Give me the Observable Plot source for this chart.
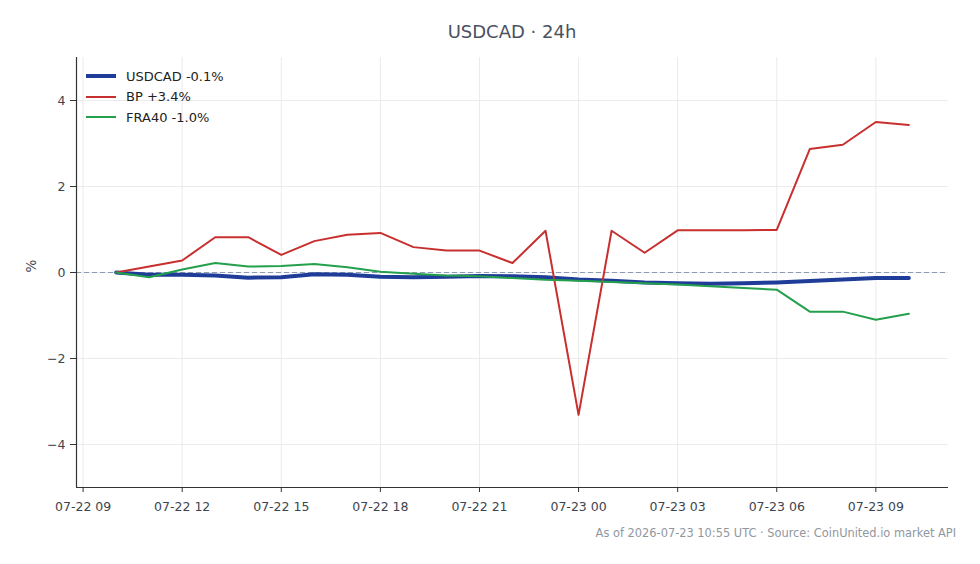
<!DOCTYPE html>
<html><head><meta charset="utf-8">
<script src="https://cdn.jsdelivr.net/npm/d3@7"></script>
<script src="https://cdn.jsdelivr.net/npm/@observablehq/plot@0.6"></script>
<style>
body{margin:0;background:#fff;font-family:"DejaVu Sans",sans-serif;}
#wrap{position:relative;width:980px;height:564px;overflow:hidden;}
#title{position:absolute;top:21px;left:76px;width:872px;text-align:center;font-size:18px;color:#4a5160;}
#caption{position:absolute;top:526px;right:24px;font-size:11.4px;color:#9097a0;white-space:nowrap;}
#legend{position:absolute;left:86px;top:66px;font-size:13px;color:#222;}
#legend .row{display:flex;align-items:center;height:20.5px;}
#legend .sw{width:30px;margin-right:10px;}
#chart{position:absolute;left:0;top:0;}
</style>
</head><body>
<div id="wrap">
<div id="chart"></div>
<div id="title">USDCAD · 24h</div>
<div id="legend"></div>
<div id="caption">As of 2026-07-23 10:55 UTC · Source: CoinUnited.io market API</div>
</div>
<script>
const startTime = "2026-07-22T10:00:00Z";
const seriesNames = ["USDCAD", "BP", "FRA40"];
const legendLabels = ["USDCAD -0.1%", "BP +3.4%", "FRA40 -1.0%"];
const usdcad = [0, -0.05, -0.05, -0.07, -0.12, -0.11, -0.04, -0.05, -0.10, -0.11, -0.10, -0.08, -0.09, -0.11, -0.16, -0.19, -0.23, -0.25, -0.26, -0.25, -0.23, -0.20, -0.16, -0.13, -0.13];
const bp = [0, 0.14, 0.28, 0.82, 0.82, 0.41, 0.73, 0.88, 0.92, 0.59, 0.51, 0.51, 0.22, 0.97, -3.31, 0.97, 0.46, 0.98, 0.98, 0.98, 0.99, 2.87, 2.97, 3.50, 3.43];
const fra40 = [0, -0.11, 0.07, 0.22, 0.14, 0.15, 0.20, 0.12, 0.02, -0.03, -0.07, -0.09, -0.13, -0.17, -0.19, -0.22, -0.25, -0.28, -0.32, -0.36, -0.40, -0.91, -0.91, -1.10, -0.96];
const yTicks = [-4, -2, 0, 2, 4];
const xTickTimes = ["2026-07-22T09:00:00Z","2026-07-22T12:00:00Z","2026-07-22T15:00:00Z","2026-07-22T18:00:00Z","2026-07-22T21:00:00Z","2026-07-23T00:00:00Z","2026-07-23T03:00:00Z","2026-07-23T06:00:00Z","2026-07-23T09:00:00Z"];

const colors = {USDCAD: "#1f3c99", BP: "#c8302f", FRA40: "#24a04d"};
const widths = {USDCAD: 4, BP: 2, FRA40: 2};

const t0 = new Date(startTime).getTime();
const H = 3600e3;
const allSeries = {USDCAD: usdcad, BP: bp, FRA40: fra40};
const rows = [];
for (const name of seriesNames) {
  allSeries[name].forEach((v, i) => rows.push({series: name, t: new Date(t0 + i * H), v}));
}
const xTicks = xTickTimes.map(s => new Date(s));
const fmt = d3.utcFormat("%m-%d %H");

const plot = Plot.plot({
  width: 980,
  height: 564,
  marginLeft: 76,
  marginRight: 32,
  marginTop: 57,
  marginBottom: 77,
  style: {fontFamily: "DejaVu Sans, sans-serif", fontSize: "12.5px", color: "#444", background: "#fff"},
  x: {type: "utc", domain: [new Date(t0 - 1.2 * H), new Date(t0 + 25.2 * H)]},
  y: {domain: [-5, 5]},
  marks: [
    Plot.gridX(xTicks, {stroke: "#e6e6e6", strokeOpacity: 1, strokeWidth: 0.8}),
    Plot.gridY(yTicks, {stroke: "#e6e6e6", strokeOpacity: 1, strokeWidth: 0.8}),
    Plot.ruleY([0], {stroke: "#8d9bb0", strokeWidth: 1, strokeDasharray: "5,3"}),
    Plot.axisX({ticks: xTicks, tickFormat: fmt, tickSize: 5, tickPadding: 10, stroke: "#333", fill: "#3d4450", fontSize: 12.5, label: null}),
    Plot.axisY({ticks: yTicks, tickFormat: d => d < 0 ? "\u2212" + Math.abs(d) : String(d), tickSize: 6, tickPadding: 5, stroke: "#333", fill: "#3d4450", fontSize: 12.5, label: null}),
    Plot.ruleX([0], {x: () => new Date(t0 - 1.2 * H), y1: -5, y2: 5, stroke: "#333", strokeWidth: 1.2}),
    Plot.ruleY([-5], {stroke: "#333", strokeWidth: 1.2}),
    ...seriesNames.map(name => Plot.line(rows.filter(r => r.series === name), {
      x: "t", y: "v", stroke: colors[name], strokeWidth: widths[name], strokeLinejoin: "round", strokeLinecap: "round"
    })),
    Plot.text(["%"], {frameAnchor: "left", dx: -45, rotate: -90, fontSize: 13.5, fill: "#3d4450"})
  ]
});
document.getElementById("chart").appendChild(plot);

const leg = document.getElementById("legend");
seriesNames.forEach((name, i) => {
  const row = document.createElement("div");
  row.className = "row";
  const sw = document.createElement("div");
  sw.className = "sw";
  sw.style.height = widths[name] + "px";
  sw.style.background = colors[name];
  const lab = document.createElement("span");
  lab.textContent = legendLabels[i];
  row.appendChild(sw); row.appendChild(lab);
  leg.appendChild(row);
});
</script>
</body></html>
